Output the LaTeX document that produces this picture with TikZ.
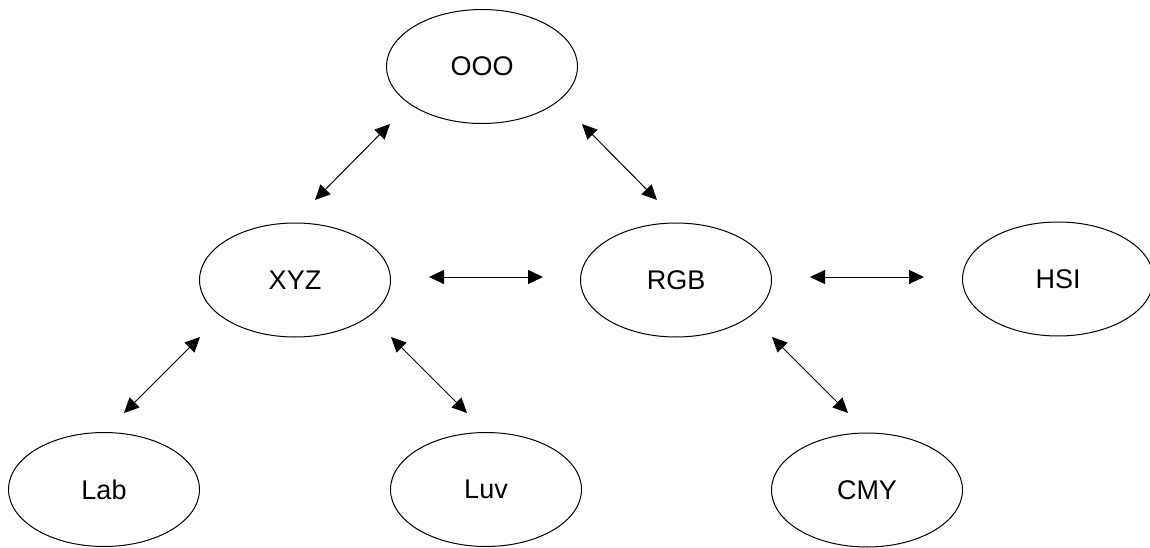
\documentclass[tikz,border=0pt]{standalone}
\usepackage{fontspec}
\setmainfont{Liberation Sans}
\usetikzlibrary{shapes.geometric,arrows.meta}
\begin{document}
\begin{tikzpicture}[x=1pt,y=-1pt,
  space/.style={ellipse,draw=black,line width=1pt,minimum width=191pt,minimum height=114pt,inner sep=0pt,
    font=\fontsize{27}{30}\selectfont},
  conv/.style={line width=1pt,{Triangle[length=15pt,width=14pt]}-{Triangle[length=15pt,width=14pt]}}]
\useasboundingbox (0,0) rectangle (1150,548);
\node[space] (ooo) at (482,66.5) {OOO};
\node[space] (xyz) at (295,280) {XYZ};
\node[space] (rgb) at (676,280) {RGB};
\node[space] (hsi) at (1058,279) {HSI};
\node[space] (lab) at (104,489.5) {Lab};
\node[space] (luv) at (486,489.5) {Luv};
\node[space] (cmy) at (867,490) {CMY};
% arrow end points
\coordinate (oooXa) at (390,124);
\coordinate (oooXb) at (315,200);
\coordinate (oooRa) at (582,124);
\coordinate (oooRb) at (657,200);
\coordinate (xyzRa) at (429,277);
\coordinate (xyzRb) at (543,277);
\coordinate (rgbHa) at (810,277);
\coordinate (rgbHb) at (924,277);
\coordinate (xyzLa) at (200,337);
\coordinate (xyzLb) at (124,413);
\coordinate (xyzUa) at (391,337);
\coordinate (xyzUb) at (467,413);
\coordinate (rgbCa) at (772,337);
\coordinate (rgbCb) at (848,413);
\draw[conv] (oooXa) -- (oooXb);
\draw[conv] (oooRa) -- (oooRb);
\draw[conv] (xyzRa) -- (xyzRb);
\draw[conv] (rgbHa) -- (rgbHb);
\draw[conv] (xyzLa) -- (xyzLb);
\draw[conv] (xyzUa) -- (xyzUb);
\draw[conv] (rgbCa) -- (rgbCb);
\end{tikzpicture}
\end{document}
